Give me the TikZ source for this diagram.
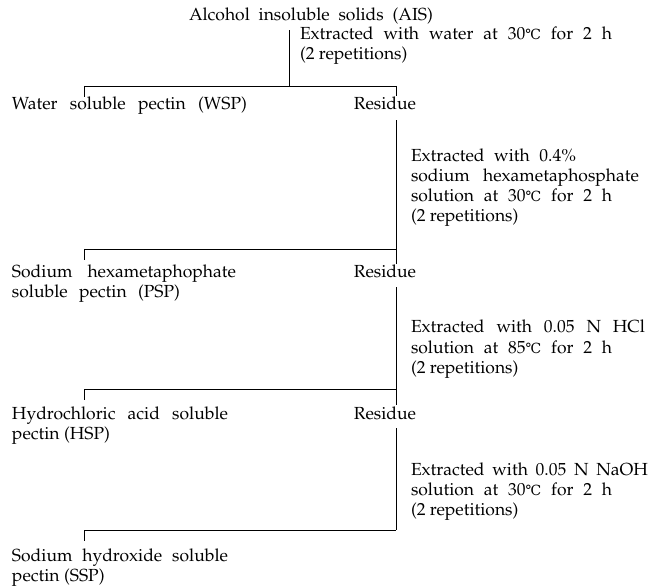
\documentclass[tikz,border=0pt]{standalone}
\usepackage{fontspec}
\usepackage[T1]{fontenc}
\newfontfamily\symfont{DejaVu Serif}
\newcommand{\dgc}{{\symfont\fontsize{14}{14}\selectfont ℃}}
\newcommand{\palfont}{\fontencoding{T1}\fontfamily{ppl}\fontsize{17.5}{20}\selectfont}
\newcommand{\fitline}[2]{\makebox[#1][s]{#2}}
\begin{document}
\begin{tikzpicture}[x=1pt,y=-1pt,
  txt/.style={inner sep=0pt, outer sep=0pt, font=\palfont, align=left},
  ln/.style={line width=0.6pt}]
\useasboundingbox[fill=white] (0,0) rectangle (651,588);

% texts (base anchor = baseline of last line)
\node[txt, anchor=base] (ais) at (311,20.5) {\fitline{244pt}{Alcohol insoluble solids (AIS)}};
\node[txt, anchor=base west] (e1) at (300,60) {\fitline{312pt}{Extracted with water at 30\dgc\ for 2 h}\\(2 repetitions)};
\node[txt, anchor=base west] (wsp) at (12,110) {\fitline{235pt}{Water soluble pectin (WSP)}};
\node[txt, anchor=base] (res1) at (385,110) {Residue};
\node[txt, anchor=base west] (e2) at (411,222) {\fitline{165pt}{Extracted with 0.4\%}\\\fitline{228pt}{sodium hexametaphosphate}\\\fitline{201pt}{solution at 30\dgc\ for 2 h}\\(2 repetitions)};
\node[txt, anchor=base west] (psp) at (12,298) {\fitline{224pt}{Sodium hexametaphophate}\\\fitline{168pt}{soluble pectin (PSP)}};
\node[txt, anchor=base] (res2) at (385,278) {Residue};
\node[txt, anchor=base west] (e3) at (411,373) {\fitline{234pt}{Extracted with 0.05 N HCl}\\\fitline{201pt}{solution at 85\dgc\ for 2 h}\\(2 repetitions)};
\node[txt, anchor=base west] (hsp) at (12,439) {\fitline{216pt}{Hydrochloric acid soluble}\\pectin (HSP)};
\node[txt, anchor=base] (res3) at (385,419) {Residue};
\node[txt, anchor=base west] (e4) at (411,515) {\fitline{237pt}{Extracted with 0.05 N NaOH}\\\fitline{201pt}{solution at 30\dgc\ for 2 h}\\(2 repetitions)};
\node[txt, anchor=base west] (ssp) at (12,581) {\fitline{216pt}{Sodium hydroxide soluble}\\pectin (SSP)};

% junctions
\coordinate (j1) at (289,86);
\coordinate (l1) at (84,86);  \coordinate (r1) at (396,86);
\coordinate (l2) at (84,249); \coordinate (r2) at (396,249);
\coordinate (l3) at (84,389); \coordinate (r3) at (396,389);
\coordinate (l4) at (84,530); \coordinate (r4) at (396,530);

\draw[ln] ([yshift=-6pt]ais.south -| j1) -- (j1);
\draw[ln] (l1) -- (r1);
\draw[ln] (l1) -- ++(0,11);
\draw[ln] (r1) -- ([yshift=1pt]res1.north -| r1);
\draw[ln] ([yshift=-10pt]res1.south -| r1) -- (r2);
\draw[ln] (l2) -- (r2);
\draw[ln] (l2) -- ++(0,11);
\draw[ln] (r2) -- ([yshift=1pt]res2.north -| r2);
\draw[ln] ([yshift=-9pt]res2.south -| r2) -- (r3);
\draw[ln] (l3) -- (r3);
\draw[ln] (l3) -- ++(0,11);
\draw[ln] (r3) -- ([yshift=1pt]res3.north -| r3);
\draw[ln] ([yshift=-9pt]res3.south -| r3) -- (r4);
\draw[ln] (l4) -- (r4);
\draw[ln] (l4) -- ++(0,11);
\end{tikzpicture}
\end{document}
